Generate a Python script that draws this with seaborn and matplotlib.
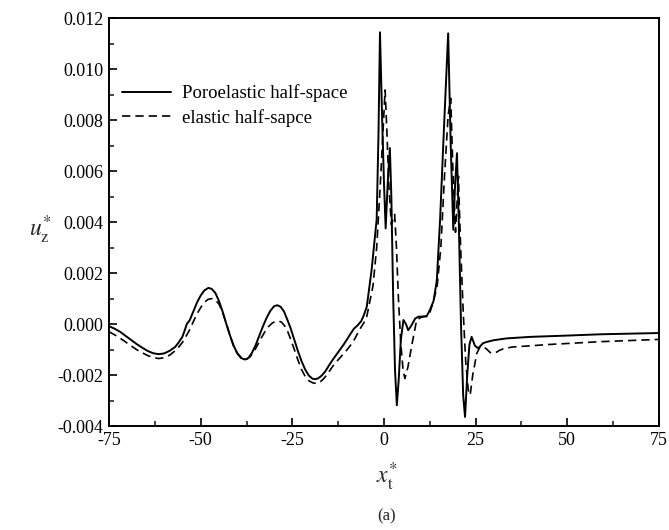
import matplotlib
matplotlib.use("Agg")
import matplotlib.pyplot as plt
import seaborn as sns
import pandas as pd
from matplotlib.ticker import MultipleLocator

# ---------------- data ----------------
x_poro = [-75, -73.5, -72, -70.5, -69, -67.5, -66, -64.5, -63, -61.5, -60, -58.5, -57, -56, -55,
          -54.3, -53.8, -53, -52, -51, -50, -49, -47.9, -47, -46, -45, -44, -43, -42, -41, -40,
          -39, -37.9, -37, -36, -35, -34, -33, -32, -31, -30, -29.1, -28.2, -27.3, -26.5,
          -25.5, -24.5, -23.5, -22.5, -21.5, -20.5, -19.5, -18.8, -18, -17, -16, -15, -14,
          -13, -12, -11, -10, -9, -8.2, -7.2, -6.2, -5.5, -4.7, -3.4, -2.0, -1.5, -1.1, -0.5,
          0.0, 0.45, 1.0, 1.6, 2.0, 2.5, 3.0, 3.5, 4.0, 4.6, 5.3, 6.0, 6.6, 7.5, 8.5, 9.4,
          11.6, 12.5, 13.5, 14.4, 15.3, 16.3, 17.5, 18.2, 18.9, 19.4, 19.9, 20.4, 21.0, 21.6,
          22.1, 22.7, 23.3, 23.9, 24.8, 25.7, 27, 28, 30, 33.5, 40, 50, 59, 75]
y_poro = [-0.08, -0.18, -0.30, -0.46, -0.62, -0.78, -0.92, -1.05, -1.14, -1.18, -1.15, -1.05,
          -0.90, -0.72, -0.50, -0.22, 0.0, 0.15, 0.50, 0.85, 1.12, 1.32, 1.42, 1.38, 1.22,
          0.90, 0.48, 0.0, -0.45, -0.85, -1.15, -1.33, -1.39, -1.33, -1.12, -0.82, -0.45,
          -0.08, 0.25, 0.52, 0.70, 0.74, 0.68, 0.50, 0.22, -0.15, -0.60, -1.05, -1.45, -1.78,
          -2.02, -2.14, -2.16, -2.13, -2.02, -1.85, -1.62, -1.40, -1.20, -1.00, -0.80, -0.58,
          -0.35, -0.18, -0.05, 0.12, 0.35, 0.68, 2.1, 4.1, 7.5, 11.44, 8.0, 5.5, 3.75, 5.5,
          6.9, 5.0, 1.07, -1.8, -3.18, -2.2, -0.6, 0.16, 0.0, -0.24, -0.05, 0.22, 0.29, 0.30,
          0.55, 0.90, 1.70, 4.1, 7.5, 11.4, 7.0, 3.7, 5.5, 6.7, 4.0, 0.0, -2.8, -3.64, -2.0,
          -0.8, -0.5, -0.85, -0.95, -0.75, -0.70, -0.63, -0.56, -0.50, -0.45, -0.40, -0.35]

x_elas = [-75, -73.5, -72, -70.5, -69, -67.5, -66, -64.5, -63, -61.5, -60, -58.5, -57, -56,
          -55, -54, -53, -52, -51, -50, -49, -48, -47, -46, -45, -44, -43, -42, -41, -40, -39,
          -38.2, -37.4, -36.5, -35.5, -34.5, -33.5, -32.5, -31.5, -30.5, -29.5, -28.8, -28,
          -27.2, -26.3, -25.5, -24.5, -23.5, -22.5, -21.5, -20.5, -19.5, -18.4, -17.5, -16.5,
          -15.5, -14.5, -13.5, -12.5, -11.5, -10.5, -9.5, -8.4, -7.4, -6.5, -5.5, -4.7, -3.0,
          -2.0, -1.0, 0.3, 0.8, 1.3, 2.0, 2.9, 3.4, 3.9, 4.6, 5.2, 5.7, 6.5, 7.5, 8.9, 10.3,
          11.6, 12.5, 13.5, 14.5, 15.5, 16.5, 17.5, 18.2, 18.8, 19.5, 20.3, 20.9, 21.6, 22.3,
          23.0, 23.5, 24.2, 25.3, 26.2, 27, 28, 29, 29.8, 30.7, 31.6, 33, 35, 45, 58.9, 75]
y_elas = [-0.30, -0.42, -0.55, -0.70, -0.85, -1.0, -1.12, -1.23, -1.31, -1.35, -1.32, -1.22,
          -1.05, -0.90, -0.72, -0.48, -0.22, 0.10, 0.40, 0.65, 0.85, 0.97, 1.00, 0.95, 0.78,
          0.45, 0.02, -0.45, -0.88, -1.15, -1.30, -1.36, -1.37, -1.28, -1.08, -0.82, -0.55,
          -0.30, -0.10, 0.04, 0.11, 0.12, 0.08, -0.05, -0.28, -0.58, -0.98, -1.40, -1.78,
          -2.05, -2.22, -2.30, -2.33, -2.28, -2.15, -1.97, -1.76, -1.56, -1.40, -1.24, -1.08,
          -0.90, -0.69, -0.42, -0.18, 0.05, 0.30, 1.5, 3.0, 5.5, 9.18, 7.5, 5.5, 3.9, 4.3,
          3.0, 1.1, -0.8, -1.8, -2.13, -1.7, -0.89, 0.16, 0.28, 0.32, 0.45, 0.90, 1.5, 3.0,
          5.8, 8.2, 8.85, 6.0, 3.6, 5.8, 3.0, 0.5, -1.5, -2.6, -2.78, -2.0, -1.15, -0.89,
          -0.88, -0.98, -1.12, -1.15, -1.10, -1.02, -0.95, -0.90, -0.80, -0.69, -0.60]

series_names = ["Poroelastic half-space", "elastic half-sapce"]
x_ticks = [-75, -50, -25, 0, 25, 50, 75]
y_ticks = [-0.004, -0.002, 0.000, 0.002, 0.004, 0.006, 0.008, 0.010, 0.012]

# ---------------- figure ----------------
sns.set_theme(style="ticks")
plt.rcParams["font.family"] = ["Liberation Serif", "DejaVu Serif"]
plt.rcParams["mathtext.fontset"] = "stix"

df_p = pd.DataFrame({"x": x_poro, "y": [v * 1e-3 for v in y_poro]})
df_e = pd.DataFrame({"x": x_elas, "y": [v * 1e-3 for v in y_elas]})

fig = plt.figure(figsize=(6.69, 5.30), dpi=100)
ax = fig.add_axes([0.163, 0.196, 0.822, 0.770])

sns.lineplot(data=df_p, x="x", y="y", ax=ax, color="black", lw=1.4,
             label=series_names[0], sort=False, estimator=None)
sns.lineplot(data=df_e, x="x", y="y", ax=ax, color="black", lw=1.2,
             label=series_names[1], sort=False, estimator=None, dashes=False)
ax.lines[1].set_linestyle((0, (5, 3)))
for ln in ax.lines:
    ln.set_solid_joinstyle("round")
    ln.set_dash_joinstyle("round")

ax.set_xlim(-75, 75)
ax.set_ylim(-0.004, 0.012)
ax.set_xticks(x_ticks)
ax.set_xticklabels([str(t) for t in x_ticks])
ax.set_yticks(y_ticks)
ax.set_yticklabels([f"{t:.3f}" for t in y_ticks])
ax.xaxis.set_minor_locator(MultipleLocator(12.5))
ax.yaxis.set_minor_locator(MultipleLocator(0.001))
ax.tick_params(axis="both", which="major", direction="in", length=6, width=1.2,
               labelsize=13, colors="black", pad=4)
ax.tick_params(axis="both", which="minor", direction="in", length=3.5, width=1.2)
ax.tick_params(top=False, right=False, which="both")
for s in ax.spines.values():
    s.set_linewidth(1.4)
    s.set_color("black")
    s.set_visible(True)

ax.set_xlabel("")
ax.set_ylabel("")
ax.text(-0.125, 0.48, r"$u_{\mathrm{z}}^{*}$", transform=ax.transAxes, fontsize=17,
        ha="center", va="center")
fig.text(0.578, 1 - 477 / 530, r"$x_{\mathrm{t}}^{*}$", fontsize=17, ha="center", va="center")
fig.text(0.578, 1 - 516 / 530, "(a)", fontsize=12, ha="center", va="center")

leg = ax.legend(loc="upper left", bbox_to_anchor=(0.0, 0.87), frameon=False,
                fontsize=13.5, handlelength=2.6, handletextpad=0.6, labelspacing=0.35,
                borderaxespad=0.3)
for t in leg.get_texts():
    t.set_color("black")

fig.savefig("out.png", dpi=100)
